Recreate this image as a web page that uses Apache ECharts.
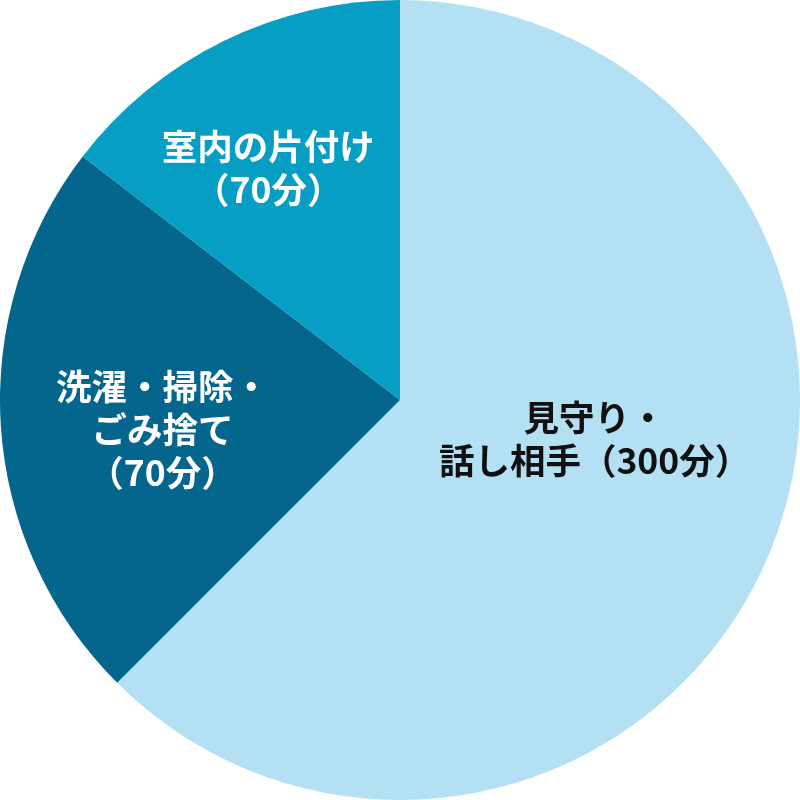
<!DOCTYPE html>
<html>
<head>
<meta charset="utf-8">
<script src="https://cdn.jsdelivr.net/npm/echarts@6/dist/echarts.min.js"></script>
<style>
  html, body { margin: 0; padding: 0; background: #fff; }
  #chart { width: 800px; height: 800px; }
</style>
</head>
<body>
<div id="chart"></div>
<script>
// slice values (angles: 225° / 82.5° / 52.5°)
var values = [300, 110, 70];
// label text shown inside each slice
var labels = ['見守り・\n話し相手（300分）', '洗濯・掃除・\nごみ捨て\n（70分）', '室内の片付け\n（70分）'];
var colors = ['#b3e0f2', '#04668c', '#069ec2'];
var textColors = ['#111111', '#ffffff', '#ffffff'];
// nudge of each label from the default inside spot
var labelShift = [[7, -39], [-35, 16], [-42, -50]];

var chart = echarts.init(document.getElementById('chart'), null, { renderer: 'canvas' });

var data = values.map(function (v, i) {
    return {
        value: v,
        name: labels[i],
        itemStyle: { color: colors[i] },
        label: { color: textColors[i] }
    };
});

chart.setOption({
    animation: false,
    series: [{
        type: 'pie',
        center: ['50%', '50%'],
        radius: ['0%', '100%'],
        startAngle: 90,
        clockwise: true,
        silent: true,
        emphasis: { disabled: true },
        itemStyle: { borderWidth: 0 },
        label: {
            show: true,
            position: 'inside',
            formatter: '{b}',
            fontFamily: '"Noto Sans CJK JP", "Noto Sans", sans-serif',
            fontWeight: 'bold',
            fontSize: 35.5,
            lineHeight: 43,
            align: 'center'
        },
        labelLine: { show: false },
        labelLayout: function (params) {
            var s = labelShift[params.dataIndex];
            return { dx: s[0], dy: s[1] };
        },
        data: data
    }]
});
</script>
</body>
</html>
